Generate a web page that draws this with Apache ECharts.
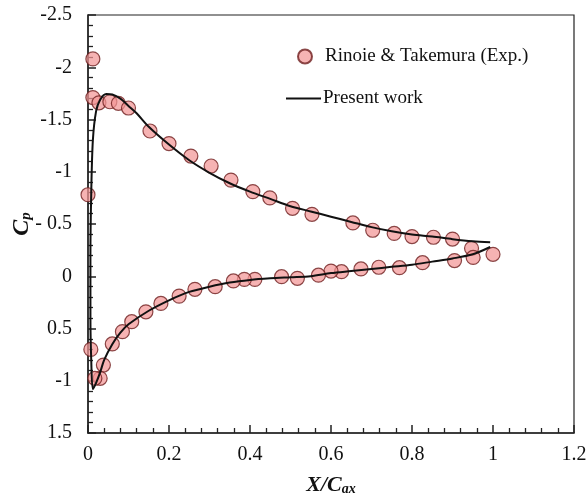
<!DOCTYPE html>
<html>
<head>
<meta charset="utf-8">
<script src="https://cdn.jsdelivr.net/npm/echarts@6/dist/echarts.min.js"></script>
<style>
  html, body { margin: 0; padding: 0; background: #fff; }
  #chart { width: 588px; height: 502px; }
</style>
</head>
<body>
<div id="chart"></div>
<script>
// tick labels as printed on the figure (the label at +1 reads "-1")
var yTickLabels = ['-2.5', '-2', '-1.5', '-1', '- 0.5', '0', '0.5', '-1', '1.5']
var xTickLabels = ['0', '0.2', '0.4', '0.6', '0.8', '1', '1.2']

// Rinoie & Takemura (Exp.)
var expX = [0.012, 0.0, 0.012, 0.027, 0.054, 0.075, 0.10, 0.153, 0.20, 0.254, 0.304, 0.353, 0.407, 0.449, 0.505,
  0.553, 0.654, 0.703, 0.756, 0.80, 0.853, 0.90, 0.947,
  1.0, 0.951, 0.905, 0.826, 0.769, 0.718, 0.674, 0.626, 0.60, 0.569, 0.517, 0.478,
  0.412, 0.386, 0.359, 0.314, 0.264, 0.225, 0.18, 0.143, 0.108, 0.085, 0.06, 0.038, 0.03, 0.017, 0.007]
var expCp = [-2.08, -0.78, -1.71, -1.66, -1.67, -1.655, -1.61, -1.39, -1.27, -1.15, -1.055, -0.92, -0.81, -0.75, -0.65,
  -0.593, -0.51, -0.44, -0.41, -0.38, -0.373, -0.356, -0.267,
  -0.21, -0.18, -0.15, -0.13, -0.082, -0.086, -0.07, -0.044, -0.05, -0.01, 0.02, 0.004,
  0.03, 0.03, 0.045, 0.10, 0.125, 0.19, 0.26, 0.34, 0.435, 0.53, 0.648, 0.85, 0.977, 0.977, 0.70]

// Present work: upper surface TE -> LE, then lower surface LE -> TE
var simX = [0.993, 0.95, 0.90, 0.85, 0.80, 0.75, 0.70, 0.65, 0.60, 0.55, 0.50, 0.45, 0.40, 0.35, 0.30, 0.25, 0.20, 0.15, 0.12, 0.10, 0.08, 0.06, 0.045, 0.03, 0.02, 0.012, 0.008, 0.006, 0.006, 0.008, 0.012,
  0.02, 0.03, 0.04, 0.06, 0.08, 0.10, 0.15, 0.20, 0.25, 0.30, 0.35, 0.40, 0.45, 0.50, 0.55, 0.60, 0.65, 0.70, 0.75, 0.80, 0.85, 0.90, 0.95, 0.993]
var simCp = [-0.325, -0.335, -0.355, -0.38, -0.40, -0.43, -0.47, -0.52, -0.57, -0.62, -0.67, -0.74, -0.81, -0.89, -0.99, -1.11, -1.26, -1.43, -1.56, -1.63, -1.70, -1.74, -1.745, -1.69, -1.58, -1.30, -0.8, -0.2, 0.4, 0.8, 1.08,
  1.02, 0.92, 0.80, 0.65, 0.54, 0.46, 0.33, 0.23, 0.15, 0.10, 0.06, 0.035, 0.02, 0.01, 0.0, -0.03, -0.05, -0.07, -0.09, -0.11, -0.14, -0.17, -0.21, -0.28]

var FONT = 'Liberation Serif'
var expData = expX.map(function (x, i) { return [x, expCp[i]] })
var simData = simX.map(function (x, i) { return [x, simCp[i]] })

var chart = echarts.init(document.getElementById('chart'))
chart.setOption({
  animation: false,
  backgroundColor: '#fff',
  textStyle: { fontFamily: FONT, color: '#111' },
  grid: {
    left: 88, right: 14, top: 15, bottom: 69,
    containLabel: false, outerBoundsMode: 'none',
    show: true, borderColor: '#222', borderWidth: 1.2
  },
  legend: [{
    data: ['Rinoie & Takemura (Exp.)'],
    left: 292, top: 42,
    itemWidth: 14, itemHeight: 14,
    textStyle: { fontFamily: FONT, fontSize: 19, color: '#111', padding: [0, 0, 0, 8] }
  }, {
    data: [{ name: 'Present work', icon: 'rect' }],
    left: 281, top: 84,
    itemWidth: 35, itemHeight: 2,
    textStyle: { fontFamily: FONT, fontSize: 19, color: '#111', padding: [0, 0, 0, -3] }
  }],
  xAxis: {
    type: 'value', min: 0, max: 1.2, interval: 0.2,
    name: '{b|X/C}{s|ax}', nameLocation: 'middle', nameGap: 41, nameMoveOverlap: false,
    nameTextStyle: {
      rich: {
        b: { fontFamily: FONT, fontSize: 22, fontWeight: 'bold', fontStyle: 'italic', color: '#111', lineHeight: 22, padding: [0, 0, 8, 0], verticalAlign: 'top' },
        s: { fontFamily: FONT, fontSize: 14, fontWeight: 'bold', fontStyle: 'italic', color: '#111', lineHeight: 22, verticalAlign: 'bottom' }
      }
    },
    axisLine: { onZero: false, lineStyle: { color: '#222', width: 1.5 } },
    axisTick: { inside: true, length: 8, lineStyle: { color: '#222', width: 1.5 } },
    minorTick: { show: true, splitNumber: 5, length: 5, lineStyle: { color: '#222', width: 1.3 } },
    axisLabel: {
      fontFamily: FONT, fontSize: 20, color: '#111', margin: 12,
      formatter: function (v) { return xTickLabels[Math.round(v / 0.2)] }
    },
    splitLine: { show: false }
  },
  yAxis: {
    type: 'value', min: -2.5, max: 1.5, interval: 0.5, inverse: true,
    name: '{b|C}{s|p}', nameLocation: 'middle', nameGap: 54, nameRotate: 90, nameMoveOverlap: false,
    nameTextStyle: {
      rich: {
        b: { fontFamily: FONT, fontSize: 24, fontWeight: 'bold', fontStyle: 'italic', color: '#111', lineHeight: 24, padding: [0, 0, 8, 0], verticalAlign: 'top' },
        s: { fontFamily: FONT, fontSize: 15, fontWeight: 'bold', fontStyle: 'italic', color: '#111', lineHeight: 22, verticalAlign: 'bottom' }
      }
    },
    axisLine: { onZero: false, lineStyle: { color: '#222', width: 1.5 } },
    axisTick: { inside: true, length: 8, lineStyle: { color: '#222', width: 1.5 } },
    minorTick: { show: true, splitNumber: 5, length: 5, lineStyle: { color: '#222', width: 1.3 } },
    axisLabel: {
      fontFamily: FONT, fontSize: 20, color: '#111', margin: 16,
      formatter: function (v) { return yTickLabels[Math.round((v + 2.5) / 0.5)] }
    },
    splitLine: { show: false }
  },
  series: [{
    name: 'Rinoie & Takemura (Exp.)',
    type: 'scatter',
    data: expData,
    symbol: 'circle',
    symbolSize: 14,
    z: 2,
    itemStyle: { color: 'rgba(243, 150, 150, 0.9)', borderColor: '#6e1e1e', borderWidth: 1.2 }
  }, {
    name: 'Present work',
    type: 'line',
    data: simData,
    symbol: 'none',
    smooth: 0.3,
    z: 3,
    lineStyle: { color: '#111', width: 2 },
    itemStyle: { color: '#111' }
  }]
})
</script>
</body>
</html>
